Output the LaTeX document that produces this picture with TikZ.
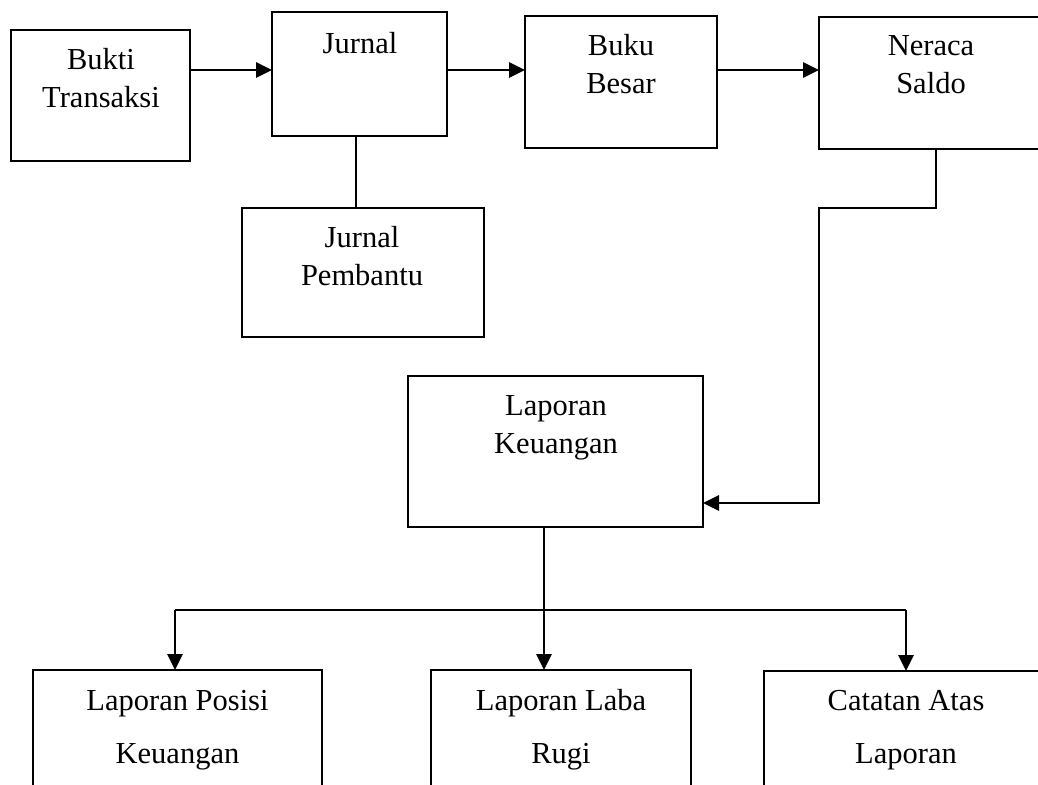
\documentclass[tikz,border=0pt]{standalone}
\usepackage{fontspec}
\setmainfont{Liberation Serif}
\usetikzlibrary{arrows.meta}
\begin{document}
\begin{tikzpicture}[x=1pt,y=-1pt,
  box/.style={draw, line width=1.4pt, anchor=north west, inner sep=0pt, outer sep=0pt},
  lbl/.style={align=center, inner sep=0pt, anchor=base, font=\fontsize{30.5}{38}\selectfont},
  lblb/.style={align=center, inner sep=0pt, anchor=base, font=\fontsize{30.5}{53}\selectfont},
  thinline/.style={line width=1.5pt},
  flow/.style={line width=2.8pt, -{Triangle[length=16pt,width=15pt]}},
]
\useasboundingbox (0,0) rectangle (1038,784);
\clip (0,0) rectangle (1038,784);
\fill[white] (0,0) rectangle (1038,784);

% boxes
\node[box, minimum width=179pt, minimum height=131pt] (bukti) at (11,30) {};
\node[box, minimum width=175pt, minimum height=124pt] (jurnal) at (272,12) {};
\node[box, minimum width=192pt, minimum height=132pt] (buku) at (525,16) {};
\node[box, minimum width=224pt, minimum height=132pt] (neraca) at (819,17) {};
\node[box, minimum width=242pt, minimum height=129pt] (pembantu) at (242,208) {};
\node[box, minimum width=295pt, minimum height=151pt] (lk) at (408,376) {};
\node[box, minimum width=289pt, minimum height=160pt] (posisi) at (33,670) {};
\node[box, minimum width=260pt, minimum height=160pt] (laba) at (431,670) {};
\node[box, minimum width=284pt, minimum height=160pt] (catatan) at (764,671) {};

% labels (anchor = baseline of the last line)
\node[lbl] (bukti-t) at (101,107) {Bukti\\Transaksi};
\node[lbl] (jurnal-t) at (360,53) {Jurnal};
\node[lbl] (buku-t) at (621,93) {Buku\\Besar};
\node[lbl] (neraca-t) at (931,93) {Neraca\\Saldo};
\node[lbl] (pembantu-t) at (362,285) {Jurnal\\Pembantu};
\node[lbl] (lk-t) at (556,453) {Laporan\\Keuangan};
\node[lblb] (posisi-t) at (177.5,763) {Laporan Posisi\\Keuangan};
\node[lblb] (laba-t) at (561,763) {Laporan Laba\\Rugi};
\node[lblb] (catatan-t) at (906,763) {Catatan Atas\\Laporan};

% helper coordinates
\coordinate (row) at (0,70);
\coordinate (jx) at (356,0);
\coordinate (nx) at (936,0);
\coordinate (corner) at (819,208);
\coordinate (ly) at (0,503);
\coordinate (bx) at (544,0);
\coordinate (split) at (0,610);
\coordinate (lx) at (175,0);
\coordinate (rx) at (906,0);

% top row arrows
\draw[flow] (bukti.east |- row) -- (jurnal.west |- row);
\draw[flow] (jurnal.east |- row) -- (buku.west |- row);
\draw[flow] (buku.east |- row) -- (neraca.west |- row);

% jurnal - pembantu
\draw[thinline] (jx |- jurnal.south) -- (jx |- pembantu.north);

% neraca -> laporan keuangan
\draw[thinline] (nx |- neraca.south) -- (nx |- corner) -- ([xshift=-1.4pt]corner);
\draw[flow] (corner) -- (corner |- ly) -- (lk.east |- ly);

% laporan keuangan -> three reports
\draw[thinline] (lx |- split) -- (rx |- split);
\draw[flow] (bx |- lk.south) -- (bx |- laba.north);
\draw[flow] (lx |- split) -- (lx |- posisi.north);
\draw[flow] (rx |- split) -- (rx |- catatan.north);
\end{tikzpicture}
\end{document}
